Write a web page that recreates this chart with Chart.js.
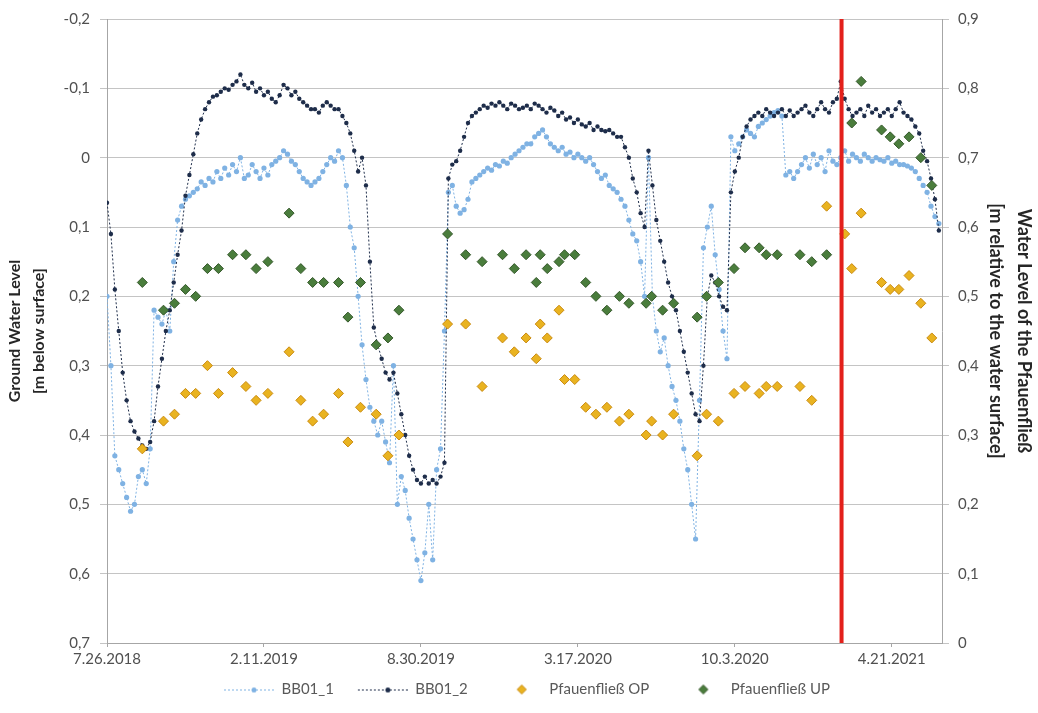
<!DOCTYPE html>
<html>
<head>
<meta charset="utf-8">
<script src="https://cdn.jsdelivr.net/npm/chart.js@4.4.1/dist/chart.umd.min.js"></script>
<style>
  html, body { margin: 0; padding: 0; background: #fff; }
  #wrap { width: 1038px; height: 713px; position: relative; }
</style>
</head>
<body>
<div id="wrap"><canvas id="myChart"></canvas></div>
<script>
// x axis: days since 7.26.2018, labelled every 200 days
const xTickLabels = ["7.26.2018", "2.11.2019", "8.30.2019", "3.17.2020", "10.3.2020", "4.21.2021"];
const xTickStep = 200;
const xMaxDay = 1064;
const redLineDay = 936;

// BB01 wells: one reading every 5 days from day 0
const bbStepDays = 5;
const bb01_1 = [
  0.2, 0.3, 0.43, 0.45, 0.47, 0.49, 0.51, 0.50, 0.46, 0.45,          // d0
  0.47, 0.42, 0.22, 0.23, 0.24, 0.22, 0.25, 0.15, 0.09, 0.07,         // d50
  0.06, 0.055, 0.05, 0.045, 0.035, 0.04, 0.03, 0.035, 0.02, 0.03,     // d100
  0.015, 0.025, 0.01, 0.02, 0.0, 0.03, 0.025, 0.01, 0.02, 0.03,       // d150
  0.015, 0.025, 0.01, 0.005, 0.0, -0.01, -0.005, 0.005, 0.01, 0.02,   // d200
  0.03, 0.035, 0.04, 0.035, 0.03, 0.02, 0.01, 0.0, 0.005, -0.01,      // d250
  0.0, 0.04, 0.1, 0.13, 0.2, 0.27, 0.32, 0.36, 0.38, 0.40,            // d300
  0.38, 0.41, 0.44, 0.30, 0.50, 0.46, 0.48, 0.52, 0.55, 0.58,         // d350
  0.61, 0.57, 0.50, 0.58, 0.45, 0.42, 0.25, 0.05, 0.04, 0.07,         // d400
  0.08, 0.075, 0.06, 0.035, 0.03, 0.025, 0.02, 0.015, 0.018, 0.01,    // d450
  0.012, 0.005, 0.008, 0.0, -0.005, -0.01, -0.015, -0.02, -0.02, -0.03, // d500
  -0.035, -0.04, -0.03, -0.02, -0.015, -0.01, -0.015, -0.005, -0.008, 0.0, // d550
  -0.005, 0.0, 0.005, 0.0, 0.01, 0.02, 0.03, 0.025, 0.04, 0.045,      // d600
  0.05, 0.06, 0.07, 0.09, 0.11, 0.12, 0.15, 0.2, 0.0, 0.2,            // d650
  0.25, 0.28, 0.26, 0.3, 0.33, 0.35, 0.38, 0.42, 0.45, 0.5,           // d700
  0.55, 0.35, 0.13, 0.1, 0.07, 0.14, 0.19, 0.25, 0.29, -0.03,         // d750
  -0.01, -0.02, -0.03, -0.04, -0.035, -0.03, -0.045, -0.05, -0.055, -0.06, // d800
  -0.065, -0.068, -0.06, 0.025, 0.02, 0.03, 0.02, 0.01, 0.0, 0.015,   // d850
  -0.005, 0.01, 0.0, 0.02, -0.01, 0.005, 0.01, 0.0, -0.01, 0.005,     // d900
  -0.005, 0.0, 0.005, -0.005, 0.0, 0.005, 0.0, 0.003, 0.005, 0.0,     // d950
  0.008, 0.005, 0.01, 0.01, 0.012, 0.015, 0.02, 0.03, 0.04, 0.05,     // d1000
  0.07, 0.085, 0.095                                                  // d1050
];
const bb01_2 = [
  0.065, 0.11, 0.19, 0.25, 0.31, 0.35, 0.38, 0.395, 0.405, 0.415,     // d0
  0.42, 0.41, 0.38, 0.33, 0.29, 0.25, 0.22, 0.18, 0.14, 0.105,        // d50
  0.055, 0.025, -0.005, -0.035, -0.055, -0.07, -0.08, -0.088, -0.09, -0.095, // d100
  -0.1, -0.098, -0.105, -0.11, -0.12, -0.105, -0.1, -0.108, -0.095, -0.1,   // d150
  -0.09, -0.095, -0.085, -0.08, -0.09, -0.105, -0.1, -0.09, -0.095, -0.085, // d200
  -0.08, -0.075, -0.07, -0.07, -0.065, -0.075, -0.08, -0.075, -0.07, -0.07, // d250
  -0.06, -0.05, -0.035, -0.01, 0.02, 0.0, 0.04, 0.15, 0.245, 0.27,   // d300
  0.29, 0.31, 0.32, 0.31, 0.34, 0.37, 0.40, 0.43, 0.45, 0.465,        // d350
  0.47, 0.46, 0.47, 0.465, 0.47, 0.46, 0.44, 0.03, 0.01, 0.005,       // d400
  -0.01, -0.03, -0.05, -0.06, -0.065, -0.07, -0.075, -0.072, -0.078, -0.075, // d450
  -0.08, -0.075, -0.07, -0.078, -0.075, -0.07, -0.072, -0.075, -0.07, -0.078, // d500
  -0.075, -0.07, -0.065, -0.072, -0.068, -0.06, -0.065, -0.055, -0.058, -0.05, // d550
  -0.055, -0.048, -0.045, -0.05, -0.04, -0.045, -0.04, -0.038, -0.04, -0.035, // d600
  -0.03, -0.03, -0.015, 0.0, 0.03, 0.05, 0.08, 0.1, -0.01, 0.04,     // d650
  0.09, 0.12, 0.15, 0.18, 0.2, 0.22, 0.25, 0.28, 0.31, 0.34,          // d700
  0.37, 0.38, 0.30, 0.2, 0.17, 0.18, 0.2, 0.215, 0.22, 0.05,          // d750
  0.02, 0.0, -0.03, -0.045, -0.055, -0.06, -0.065, -0.06, -0.07, -0.065, // d800
  -0.06, -0.065, -0.07, -0.06, -0.068, -0.06, -0.065, -0.07, -0.075, -0.065, // d850
  -0.06, -0.07, -0.08, -0.07, -0.065, -0.08, -0.085, -0.11, -0.085, -0.07, // d900
  -0.06, -0.065, -0.07, -0.06, -0.075, -0.065, -0.07, -0.06, -0.065, -0.07, // d950
  -0.06, -0.07, -0.08, -0.065, -0.06, -0.055, -0.045, -0.035, -0.01, 0.005, // d1000
  0.03, 0.06, 0.105                                                   // d1050
];

// Pfauenfließ gauge readings (right axis)
const pfauDays = [
  45, 72, 86, 100, 113, 128, 142, 160, 177, 190,
  205, 232, 247, 262, 276, 295, 307, 323, 343, 358,
  372, 434, 457, 478, 504, 519, 534, 547, 552, 561,
  576, 583, 596, 610, 623, 637, 653, 665, 687, 694,
  708, 722, 752, 764, 779, 799, 813, 831, 840, 854,
  883, 898, 917, 940, 949, 961, 987, 998, 1009, 1022,
  1037, 1051
];
const pfauOP = [
  0.28, 0.32, 0.33, 0.36, 0.36, 0.40, 0.36, 0.39, 0.37, 0.35,
  0.36, 0.42, 0.35, 0.32, 0.33, 0.36, 0.29, 0.34, 0.33, 0.27,
  0.30, 0.46, 0.46, 0.37, 0.44, 0.42, 0.44, 0.41, 0.46, 0.44,
  0.48, 0.38, 0.38, 0.34, 0.33, 0.34, 0.32, 0.33, 0.30, 0.32,
  0.30, 0.33, 0.27, 0.33, 0.32, 0.36, 0.37, 0.36, 0.37, 0.37,
  0.37, 0.35, 0.63, 0.59, 0.54, 0.62, 0.52, 0.51, 0.51, 0.53,
  0.49, 0.44
];
const pfauUP = [
  0.52, 0.48, 0.49, 0.51, 0.50, 0.54, 0.54, 0.56, 0.56, 0.54,
  0.55, 0.62, 0.54, 0.52, 0.52, 0.52, 0.47, 0.52, 0.43, 0.44,
  0.48, 0.59, 0.56, 0.55, 0.56, 0.54, 0.56, 0.52, 0.56, 0.54,
  0.55, 0.56, 0.56, 0.52, 0.50, 0.48, 0.50, 0.49, 0.49, 0.50,
  0.48, 0.49, 0.47, 0.50, 0.52, 0.54, 0.57, 0.57, 0.56, 0.56,
  0.56, 0.55, 0.56, null, 0.75, 0.81, 0.74, 0.73, 0.72, 0.73,
  0.70, 0.66
];

const LIGHT = "#7fb2e3";
const NAVY = "#1e2d4a";
const GOLD = "#e9b320";
const GOLD_EDGE = "#c98a10";
const GREEN = "#4a7d3c";
const GREEN_EDGE = "#35582b";

const toPoints = (xs, ys) => ys.map((y, i) => ({ x: xs[i], y }));
const bbDays = bb01_1.map((_, i) => i * bbStepDays);

function fmtComma(v) {
  if (Math.abs(v) < 1e-9) return "0";
  return v.toFixed(1).replace(".", ",");
}

// legend symbols (66px wide, left 16px kept empty as item spacing)
const SYM_W = 66;
function lineSymbol(color) {
  const c = document.createElement("canvas");
  c.width = SYM_W; c.height = 10;
  const g = c.getContext("2d");
  g.strokeStyle = color; g.lineWidth = 1; g.setLineDash([2, 2]);
  g.beginPath(); g.moveTo(16, 5.5); g.lineTo(SYM_W, 5.5); g.stroke();
  g.fillStyle = color;
  g.beginPath(); g.arc(46, 5.5, 2.5, 0, Math.PI * 2); g.fill();
  return c;
}
function diamondSymbol(fill, edge) {
  const c = document.createElement("canvas");
  c.width = SYM_W; c.height = 12;
  const g = c.getContext("2d");
  g.fillStyle = fill; g.strokeStyle = edge; g.lineWidth = 1;
  g.beginPath();
  g.moveTo(46, 1.5); g.lineTo(50.5, 6); g.lineTo(46, 10.5); g.lineTo(41.5, 6);
  g.closePath(); g.fill(); g.stroke();
  return c;
}
const legendSymbols = [lineSymbol(LIGHT), lineSymbol(NAVY), diamondSymbol(GOLD, GOLD_EDGE), diamondSymbol(GREEN, GREEN_EDGE)];

Chart.defaults.font.family = "Lato, 'Open Sans', sans-serif";
Chart.defaults.color = "#595959";

const data = {
  datasets: [
    {
      label: "BB01_1",
      data: toPoints(bbDays, bb01_1),
      yAxisID: "y",
      showLine: true,
      borderColor: LIGHT,
      borderWidth: 1,
      borderDash: [2, 2],
      backgroundColor: LIGHT,
      pointRadius: 2.6,
      pointBorderWidth: 0,
      order: 4,
    },
    {
      label: "BB01_2",
      data: toPoints(bbDays, bb01_2),
      yAxisID: "y",
      showLine: true,
      borderColor: NAVY,
      borderWidth: 1,
      borderDash: [2, 2],
      backgroundColor: NAVY,
      pointRadius: 2.2,
      pointBorderWidth: 0,
      order: 3,
    },
    {
      label: "Pfauenfließ OP",
      data: toPoints(pfauDays, pfauOP),
      yAxisID: "y2",
      pointStyle: "rectRot",
      pointRadius: 5,
      backgroundColor: GOLD,
      borderColor: GOLD_EDGE,
      borderWidth: 1,
      order: 2,
    },
    {
      label: "Pfauenfließ UP",
      data: toPoints(pfauDays, pfauUP),
      yAxisID: "y2",
      pointStyle: "rectRot",
      pointRadius: 5,
      backgroundColor: GREEN,
      borderColor: GREEN_EDGE,
      borderWidth: 1,
      order: 1,
    },
    {
      label: "marker",
      data: [{ x: redLineDay, y: -0.2 }, { x: redLineDay, y: 0.7 }],
      yAxisID: "y",
      showLine: true,
      borderColor: "#e3201b",
      borderWidth: 4,
      pointRadius: 0,
      order: 0,
    },
  ],
};

const config = {
  type: "scatter",
  data,
  options: {
    responsive: true,
    maintainAspectRatio: false,
    animation: false,
    layout: { padding: { top: 19, right: 0, bottom: 6, left: 0 } },
    plugins: {
      tooltip: { enabled: false },
      legend: {
        position: "bottom",
        labels: {
          usePointStyle: true,
          pointStyleWidth: SYM_W,
          boxHeight: 12,
          padding: 8,
          color: "#595959",
          font: { size: 15 },
          filter: (item) => item.datasetIndex < 4,
          sort: (a, b) => a.datasetIndex - b.datasetIndex,
          generateLabels: (chart) =>
            Chart.defaults.plugins.legend.labels.generateLabels(chart).map((item) => {
              if (item.datasetIndex < 4) item.pointStyle = legendSymbols[item.datasetIndex];
              return item;
            }),
        },
      },
    },
    scales: {
      x: {
        type: "linear",
        min: 0,
        max: xMaxDay,
        ticks: {
          stepSize: xTickStep,
          includeBounds: false,
          maxRotation: 0,
          padding: 3,
          color: "#505050",
          font: { size: 15 },
          callback: (v) => (v % xTickStep === 0 ? xTickLabels[v / xTickStep] : ""),
        },
        grid: { drawOnChartArea: false, drawTicks: true, tickLength: 4, color: "#a6a6a6" },
        border: { color: "#a6a6a6" },
        afterFit: (scale) => { scale.height = 31; },
      },
      y: {
        position: "left",
        reverse: true,
        min: -0.2,
        max: 0.7,
        ticks: {
          stepSize: 0.1,
          padding: 10,
          color: "#505050",
          font: { size: 15 },
          callback: (v) => fmtComma(v),
        },
        grid: { color: "#c4c4c4", tickLength: 7 },
        border: { color: "#a6a6a6" },
        title: {
          display: true,
          text: ["Ground Water Level", "[m below surface]"],
          color: "#262626",
          font: { size: 16, weight: "bold", lineHeight: 1.55 },
          padding: { top: 2, bottom: 0 },
        },
        afterFit: (scale) => { scale.width = 107; },
      },
      y2: {
        position: "right",
        min: 0,
        max: 0.9,
        ticks: {
          stepSize: 0.1,
          padding: 9,
          color: "#505050",
          font: { size: 15 },
          callback: (v) => fmtComma(v),
        },
        grid: { drawOnChartArea: false, tickLength: 7, color: "#c4c4c4" },
        border: { color: "#a6a6a6" },
        title: {
          display: true,
          text: ["Water Level of the Pfauenfließ", "[m relative to the water surface]"],
          color: "#262626",
          font: { size: 18, weight: "bold", lineHeight: 1.55 },
          padding: { top: 0, bottom: 0 },
        },
        afterFit: (scale) => { scale.width = 96; },
      },
    },
  },
};

const myChart = new Chart(document.getElementById("myChart"), config);
</script>
</body>
</html>
